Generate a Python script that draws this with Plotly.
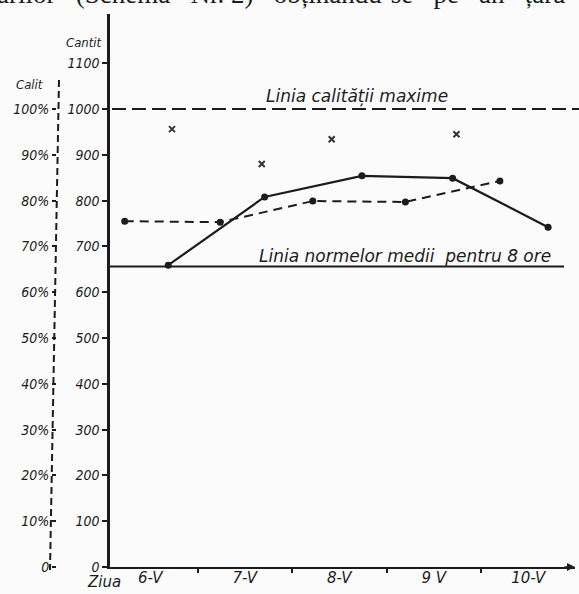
import plotly.graph_objects as go

# ---- data (x = day position, 0 = start of day "6-V"; y = quantity) ----
day_labels = ["6-V", "7-V", "8-V", "9 V", "10-V"]
day_centers = [0.5, 1.5, 2.5, 3.5, 4.5]
day_ticks = [1, 2, 3, 4]

qty_ticks = [0, 100, 200, 300, 400, 500, 600, 700, 800, 900, 1000, 1100]
pct_ticks = [0, 10, 20, 30, 40, 50, 60, 70, 80, 90, 100]
pct_labels = ["0", "10%", "20%", "30%", "40%", "50%", "60%", "70%", "80%", "90%", "100%"]

solid_x = [0.69, 1.71, 2.74, 3.70, 4.71]
solid_y = [659, 808, 854, 849, 742]

dashed_x = [0.23, 1.24, 2.22, 3.20, 4.20]
dashed_y = [755, 753, 799, 797, 843]

cross_x = [0.73, 1.68, 2.42, 3.74]
cross_y = [956, 880, 934, 945]

max_quality = 1000
norm_8h = 656

# ---- layout geometry ----
W, H = 579, 594
ink = "#1c1c1c"
y_bottom_px, y_top_px = 567, 14
px_per_unit = 0.458
ytop = (y_bottom_px - y_top_px) / px_per_unit
ydom = [(H - y_bottom_px) / H, (H - y_top_px) / H]
x0_px, xstep = 103, 94.5
x_left_px, x_right_px = 110, 575
xr = [(x_left_px - x0_px) / xstep, (x_right_px - x0_px) / xstep]
xdom = [x_left_px / W, x_right_px / W]

fnt = dict(family="DejaVu Sans Condensed, DejaVu Sans", color=ink, style="italic")
fnt_wide = dict(family="DejaVu Sans", color=ink, style="italic")

fig = go.Figure()
fig.add_trace(go.Scatter(x=solid_x, y=solid_y, mode="lines+markers",
                         line=dict(color=ink, width=2.2),
                         marker=dict(size=7, color=ink), showlegend=False))
fig.add_trace(go.Scatter(x=dashed_x, y=dashed_y, mode="lines+markers",
                         line=dict(color=ink, width=2, dash="9px,6px"),
                         marker=dict(size=7, color=ink), showlegend=False))
fig.add_trace(go.Scatter(x=cross_x, y=cross_y, mode="markers",
                         marker=dict(symbol="x-thin", size=6, color="#333",
                                     line=dict(width=2, color="#333")),
                         showlegend=False))
# invisible traces to activate secondary axes
fig.add_trace(go.Scatter(x=day_centers, y=[None]*5, xaxis="x2", yaxis="y", showlegend=False))
fig.add_trace(go.Scatter(x=[None], y=[None], xaxis="x", yaxis="y2", showlegend=False))

fig.update_layout(
    width=W, height=H, autosize=False,
    margin=dict(l=0, r=0, t=0, b=0, pad=0, autoexpand=False),
    paper_bgcolor="#fbfbfb", plot_bgcolor="rgba(0,0,0,0)",
    xaxis=dict(domain=xdom, range=xr, anchor="y", showgrid=False, zeroline=False,
               showline=True, linecolor=ink, linewidth=1.6, automargin=False,
               tickvals=day_ticks, ticktext=[""] * 4, ticks="outside", ticklen=4,
               tickcolor=ink, tickwidth=1.5),
    xaxis2=dict(overlaying="x", anchor="y", side="bottom", range=xr, showgrid=False,
                zeroline=False, showline=False, tickvals=day_centers, ticktext=day_labels,
                ticks="", automargin=False, tickfont=dict(size=15, **fnt_wide)),
    yaxis=dict(domain=ydom, range=[0, ytop], anchor="x", showgrid=False, zeroline=False,
               showline=True, linecolor=ink, linewidth=2.5, automargin=False,
               tickvals=qty_ticks, ticks="outside", ticklen=5, tickcolor=ink, tickwidth=1.5,
               tickfont=dict(size=14, **fnt)),
    yaxis2=dict(overlaying="y", anchor="free", position=56 / W, side="left",
                range=[0, ytop / 10], showgrid=False, zeroline=False, showline=False,
                automargin=False,
                tickvals=pct_ticks, ticktext=pct_labels, ticks="outside", ticklen=4,
                tickcolor=ink, tickwidth=1.5, tickfont=dict(size=14, **fnt)),
)

# dashed left (quality) axis line
fig.add_shape(type="line", xref="paper", yref="paper",
              x0=59 / W, y0=(H - 80) / H, x1=50 / W, y1=(H - 570) / H,
              line=dict(color=ink, width=2, dash="7px,4px"))
# line of maximum quality
fig.add_shape(type="line", xref="paper", yref="y", x0=112 / W, x1=1.0,
              y0=max_quality, y1=max_quality,
              line=dict(color=ink, width=2, dash="14px,6px"))
# average norm line for 8 hours
fig.add_shape(type="line", xref="paper", yref="y", x0=108 / W, x1=564 / W,
              y0=norm_8h, y1=norm_8h, line=dict(color=ink, width=2))

ann = [
    dict(text="Linia calității maxime", x=357 / W, y=max_quality + 28, xref="paper", yref="y",
         xanchor="center", yanchor="middle", showarrow=False, font=dict(size=17, **fnt_wide)),
    dict(text="Linia normelor medii  pentru 8 ore", x=405 / W, y=norm_8h + 24, xref="paper",
         yref="y", xanchor="center", yanchor="middle", showarrow=False,
         font=dict(size=17, **fnt_wide)),
    dict(text="Cantit", x=84 / W, y=(H - 42) / H, xref="paper", yref="paper",
         xanchor="center", yanchor="middle", showarrow=False, font=dict(size=13, **fnt)),
    dict(text="Calit", x=30 / W, y=(H - 85) / H, xref="paper", yref="paper",
         xanchor="center", yanchor="middle", showarrow=False, font=dict(size=13, **fnt)),
    dict(text="Ziua", x=104 / W, y=(H - 582) / H, xref="paper", yref="paper",
         xanchor="center", yanchor="middle", showarrow=False, font=dict(size=15, **fnt_wide)),
    dict(text="rarilor   (Schema   Nr. 2)   obținându-se   pe   an   țară", x=0.0, y=1.0,
         xref="paper", yref="paper", xanchor="left", yanchor="bottom", yshift=-11,
         xshift=-14, showarrow=False,
         font=dict(size=27, family="Liberation Serif, DejaVu Serif", color=ink)),
    dict(text="", x=xr[1], y=0, xref="x", yref="y", ax=-12, ay=0, showarrow=True,
         arrowhead=2, arrowsize=1, arrowwidth=1.6, arrowcolor=ink),
]
fig.update_layout(annotations=ann)

fig.write_html("out.html", config={"displayModeBar": False},
               post_script="document.body.style.margin='0';document.body.style.overflow='hidden';")
